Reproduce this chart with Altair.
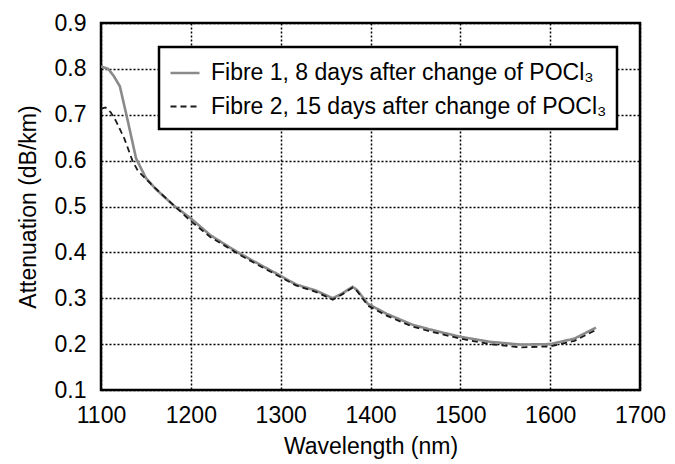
import altair as alt
import pandas as pd

series_names = ["Fibre 1, 8 days after change of POCl₃",
                "Fibre 2, 15 days after change of POCl₃"]

wl_1 = [1100, 1108, 1114, 1121, 1130, 1139, 1150, 1161, 1181, 1200, 1222, 1240,
        1254, 1280, 1299, 1317, 1339, 1358, 1369, 1380, 1385, 1397, 1418, 1447,
        1466, 1500, 1533, 1567, 1600, 1627, 1651]
att_1 = [0.805, 0.800, 0.785, 0.762, 0.685, 0.605, 0.562, 0.538, 0.502, 0.474,
         0.437, 0.415, 0.398, 0.370, 0.350, 0.330, 0.317, 0.300, 0.311, 0.325,
         0.318, 0.288, 0.266, 0.242, 0.232, 0.216, 0.205, 0.199, 0.200, 0.212, 0.236]

wl_2 = [1100, 1105, 1111, 1117, 1126, 1135, 1141, 1156, 1178, 1200, 1222, 1240,
        1254, 1280, 1299, 1317, 1339, 1358, 1369, 1380, 1385, 1397, 1418, 1447,
        1466, 1500, 1533, 1567, 1600, 1627, 1651]
att_2 = [0.713, 0.716, 0.705, 0.685, 0.648, 0.600, 0.578, 0.548, 0.508, 0.468,
         0.433, 0.412, 0.395, 0.367, 0.347, 0.328, 0.314, 0.297, 0.309, 0.323,
         0.316, 0.284, 0.262, 0.238, 0.228, 0.212, 0.200, 0.193, 0.195, 0.207, 0.231]

x_ticks = [1100, 1200, 1300, 1400, 1500, 1600, 1700]
y_ticks = [0.1, 0.2, 0.3, 0.4, 0.5, 0.6, 0.7, 0.8, 0.9]

df = pd.concat([
    pd.DataFrame({"wl": wl_1, "att": att_1, "series": series_names[0], "order": range(len(wl_1))}),
    pd.DataFrame({"wl": wl_2, "att": att_2, "series": series_names[1], "order": range(len(wl_2))}),
])

FONT = "Liberation Sans"

legend = alt.Legend(
    title=None, orient="none", legendX=58, legendY=24,
    labelFontSize=23, labelFont=FONT, labelColor="black", labelLimit=600,
    symbolType="stroke", symbolSize=841, symbolStrokeWidth=2.5,
    strokeColor="black", fillColor="white", padding=10, rowPadding=6,
    labelOffset=10,
)

chart = alt.Chart(df).mark_line(clip=True).encode(
    x=alt.X("wl:Q", scale=alt.Scale(domain=[1100, 1700], nice=False),
            axis=alt.Axis(values=x_ticks, title="Wavelength (nm)", format="d", labelFlush=False)),
    y=alt.Y("att:Q", scale=alt.Scale(domain=[0.1, 0.9], nice=False, zero=False),
            axis=alt.Axis(values=y_ticks, title="Attenuation (dB/km)", format=".1f", labelFlush=False)),
    color=alt.Color("series:N", scale=alt.Scale(domain=series_names, range=["#8a8a8a", "#1a1a1a"]),
                    legend=legend),
    strokeDash=alt.StrokeDash("series:N", scale=alt.Scale(domain=series_names, range=[[1, 0], [6, 4]]),
                              legend=legend),
    strokeWidth=alt.StrokeWidth("series:N", scale=alt.Scale(domain=series_names, range=[2.6, 1.8]),
                                legend=None),
    order="order:Q",
).properties(
    width=539, height=367,
    autosize=alt.AutoSizeParams(type="none"),
    padding={"left": 101, "top": 23, "right": 35, "bottom": 74},
).configure_view(
    stroke="black", strokeWidth=2.5
).configure_axis(
    labelFont=FONT, titleFont=FONT, labelFontSize=23, titleFontSize=23,
    labelColor="black", titleColor="black", titleFontWeight="normal",
    domain=False, ticks=False,
    grid=True, gridColor="black", gridDash=[2, 2], gridWidth=1.5, gridOpacity=1,
).configure_axisY(
    labelPadding=15, titlePadding=14,
).configure_axisX(
    labelPadding=14, titlePadding=8,
).configure_legend(
    strokeWidth=2.5
)

chart.save("out.html", embed_options={"renderer": "svg", "actions": False})
